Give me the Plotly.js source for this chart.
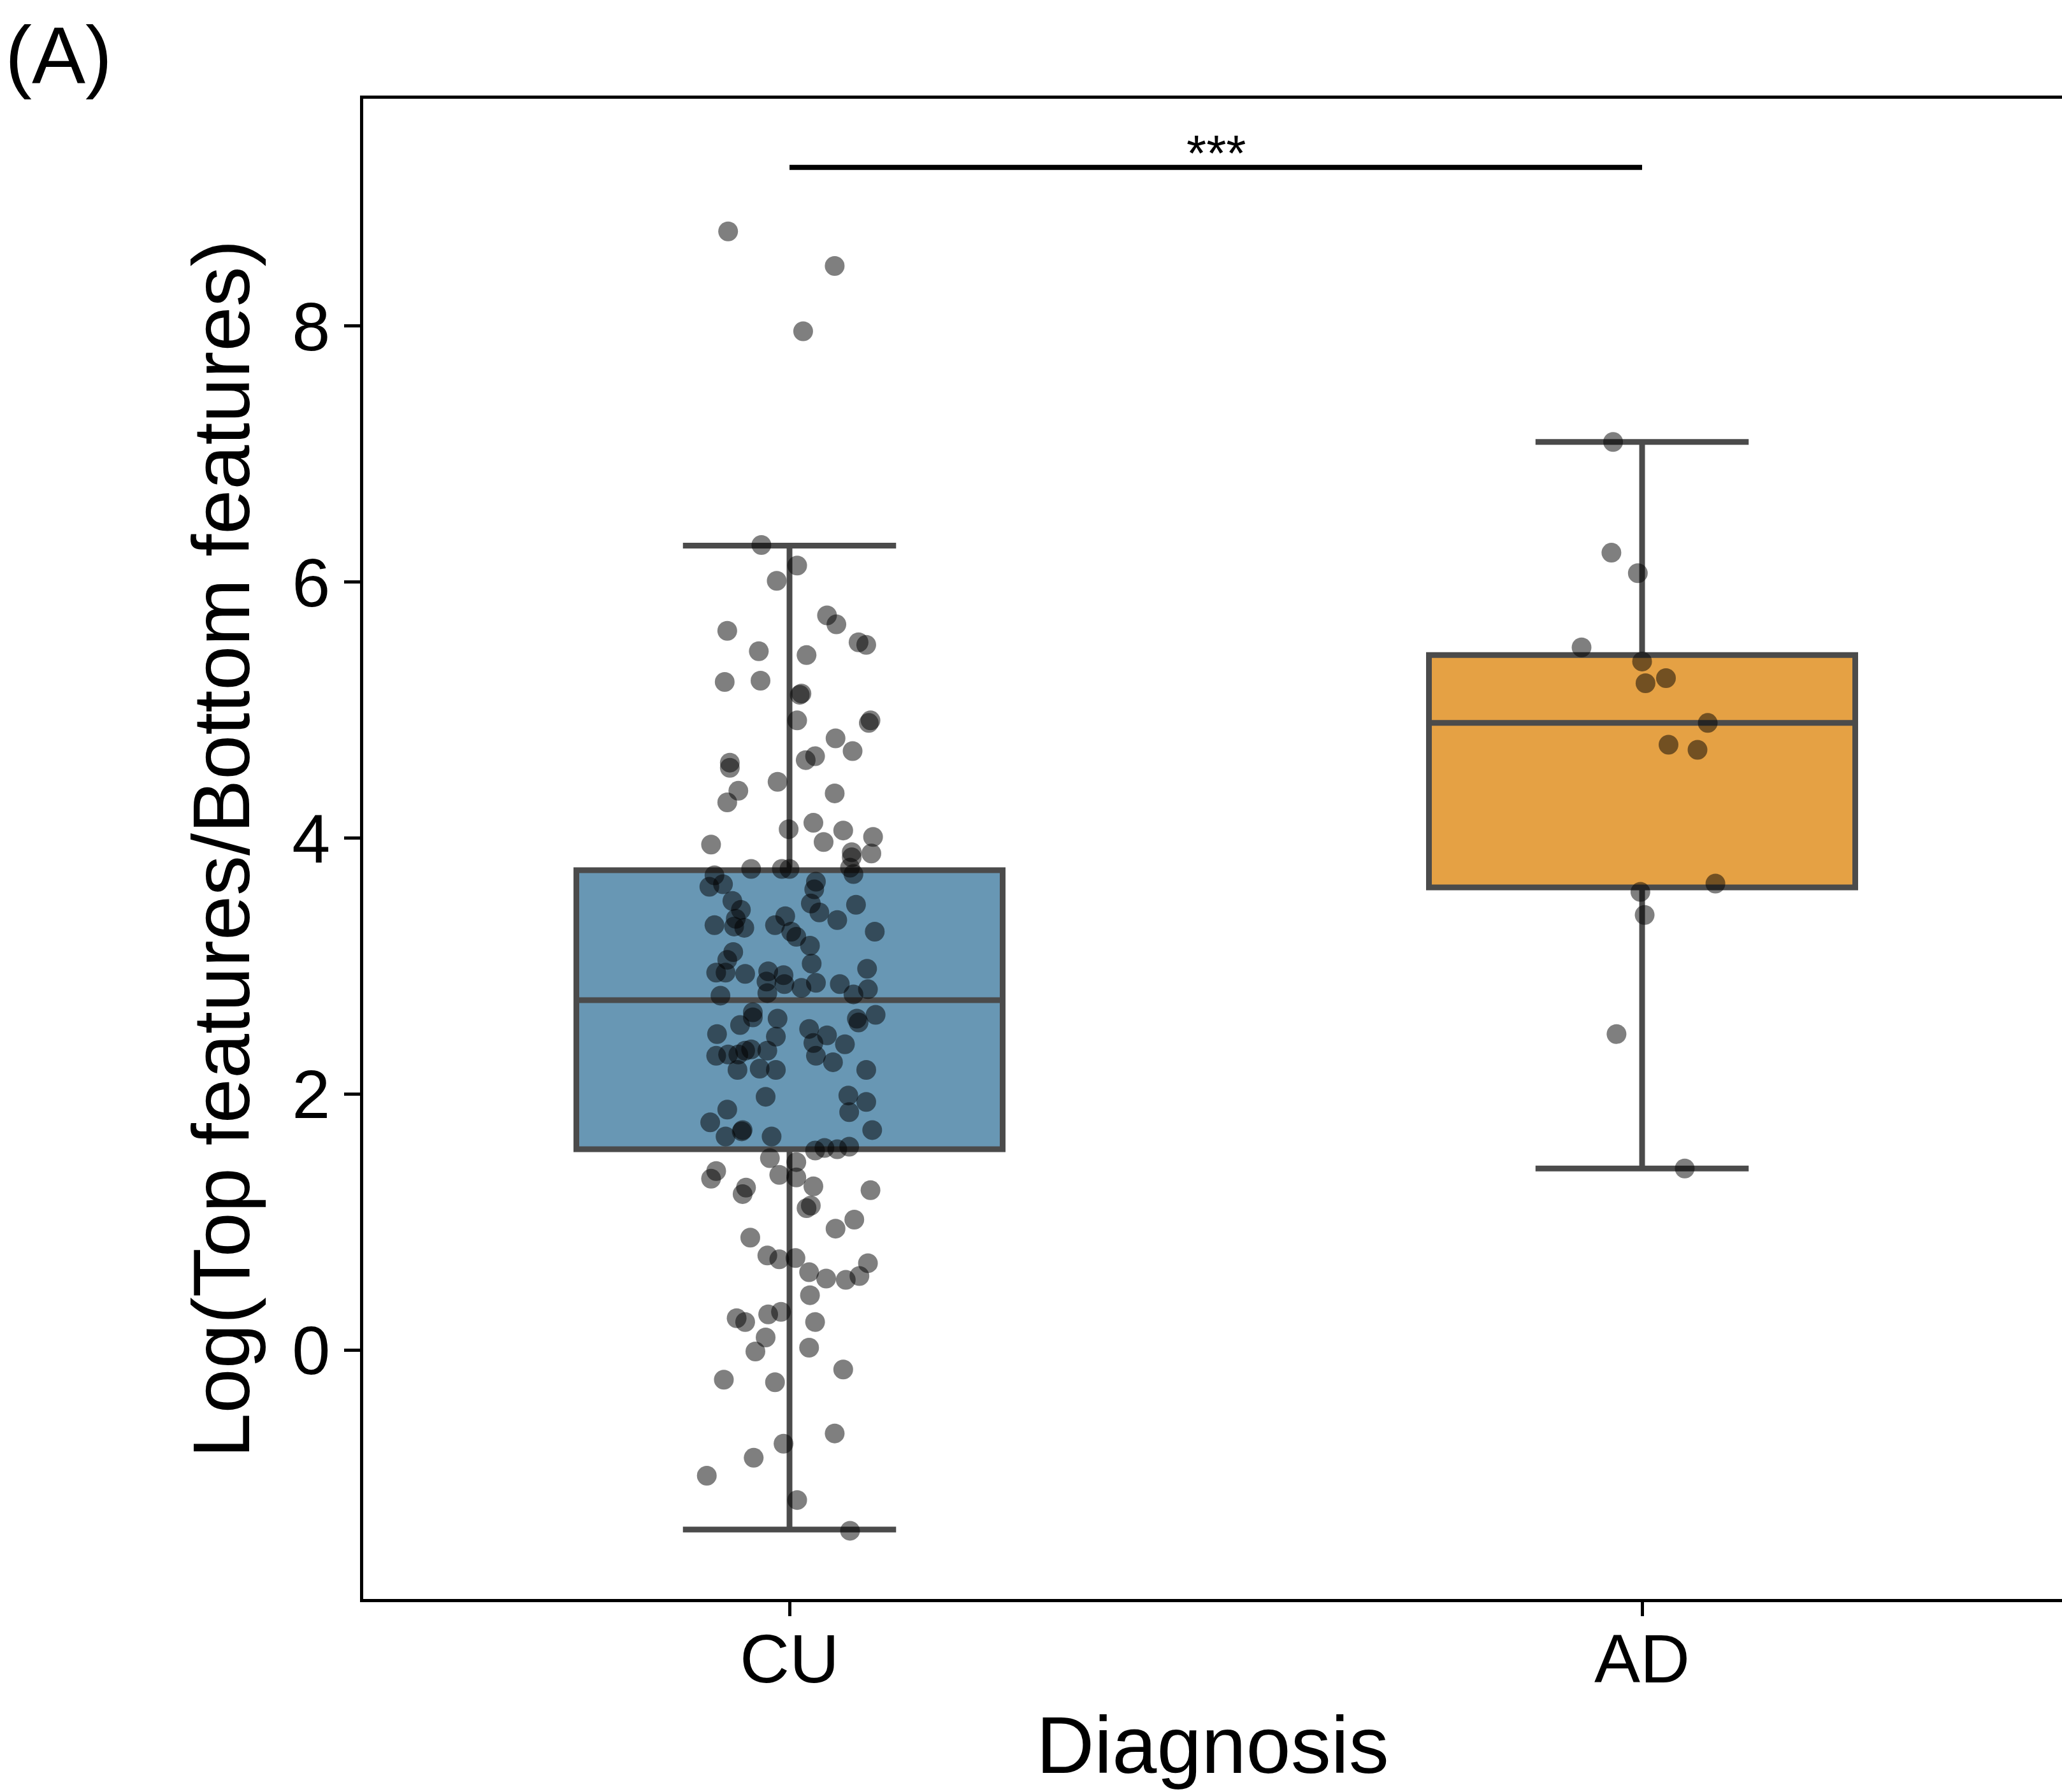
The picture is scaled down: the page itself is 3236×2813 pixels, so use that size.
<!DOCTYPE html>
<html>
<head>
<meta charset="utf-8">
<script src="https://cdn.plot.ly/plotly-3.0.1.min.js"></script>
<style>
  html, body { margin: 0; padding: 0; background: #ffffff; overflow: hidden; }
  #chart { width: 3236px; height: 2813px; }
</style>
</head>
<body>
<div id="chart"></div>
<script>
// ---------- data ----------
const categories = ['CU', 'AD'];
const categoryPositions = [0, 1];

// box statistics (Q1, median, Q3, whisker ends)
const boxQ1 = [1.57, 3.615];
const boxMedian = [2.735, 4.90];
const boxQ3 = [3.75, 5.43];
const boxLowerWhisker = [-1.40, 1.42];
const boxUpperWhisker = [6.285, 7.095];
const boxColors = ['#6897b4', '#e5a144'];

// individual CU observations: horizontal jitter (category units) and value
const cuJitter = [
  -0.072, 0.053, 0.016, -0.033,
  0.009, -0.015, 0.044, 0.055, -0.073, 0.081, 0.090, -0.036, 0.020, -0.076,
  -0.034, 0.014, 0.012, 0.009, 0.095, 0.093, 0.054, 0.074, 0.019, 0.030,
  -0.070, -0.070, -0.014, -0.060, -0.073, 0.053, -0.001, 0.028, 0.063, 0.040,
  0.098, -0.092, 0.073, 0.073, 0.096, -0.045, -0.009, 0.000, 0.071, 0.075,
  -0.088, -0.094, -0.078, -0.067, -0.057, -0.088, -0.065, -0.053, -0.063, -0.005,
  -0.017, 0.031, 0.029, 0.025, 0.035, 0.056, 0.078, 0.100, 0.008, 0.002,
  0.024, 0.026, -0.066, -0.073, -0.086, -0.075, -0.052, -0.025, -0.027, -0.007,
  -0.006, 0.014, 0.031, 0.059, 0.091, 0.092, -0.081, -0.026, 0.075,
  -0.043, -0.058, -0.043, -0.014, -0.016, -0.085, 0.023, 0.044, 0.028, 0.031,
  0.051, 0.065, 0.079, 0.081, 0.101, -0.086, -0.072, -0.060, -0.045, -0.026,
  -0.061, -0.035, -0.016, 0.090, -0.028, 0.069, 0.090, 0.070, -0.073, -0.093,
  -0.075, -0.055, -0.056, -0.021, 0.097, -0.052,
  0.030, 0.041, 0.056, 0.070, -0.023, 0.008, -0.012, 0.008, -0.086, -0.092,
  -0.051, -0.055, 0.028, 0.025, 0.020, 0.095, 0.076, 0.054, -0.046, -0.026,
  -0.012, 0.007, 0.023, 0.043, 0.066, 0.082, 0.092,
  0.024, -0.062, -0.052, -0.025, -0.010, 0.030, -0.028, -0.040, 0.023, 0.063,
  -0.077, -0.017, 0.053, -0.007, -0.042, -0.097, 0.009, 0.071
];
const cuValues = [
  8.74, 8.47, 7.96, 6.29,
  6.13, 6.01, 5.74, 5.67, 5.62, 5.53, 5.51, 5.46, 5.43, 5.22,
  5.23, 5.13, 5.12, 4.92, 4.92, 4.90, 4.78, 4.68, 4.61, 4.64,
  4.59, 4.55, 4.44, 4.37, 4.28, 4.35, 4.07, 4.12, 4.06, 3.97,
  4.01, 3.95, 3.89, 3.85, 3.88, 3.76, 3.76, 3.76, 3.77, 3.72,
  3.71, 3.62, 3.64, 3.51, 3.44, 3.32, 3.31, 3.30, 3.37, 3.39,
  3.32, 3.66, 3.60, 3.49, 3.42, 3.36, 3.48, 3.27, 3.23, 3.27,
  3.16, 3.02, 3.11, 3.05, 2.95, 2.95, 2.94, 2.96, 2.88, 2.93,
  2.86, 2.83, 2.87, 2.86, 2.98, 2.82, 2.77, 2.79, 2.78,
  2.60, 2.54, 2.64, 2.59, 2.45, 2.47, 2.51, 2.46, 2.40, 2.30,
  2.25, 2.39, 2.59, 2.56, 2.62, 2.30, 2.31, 2.31, 2.35, 2.34,
  2.19, 2.20, 2.19, 2.19, 1.98, 1.99, 1.94, 1.86, 1.88, 1.78,
  1.67, 1.72, 1.71, 1.67, 1.72, 2.34,
  1.56, 1.58, 1.57, 1.59, 1.50, 1.47, 1.37, 1.35, 1.40, 1.34,
  1.27, 1.22, 1.28, 1.13, 1.11, 1.25, 1.02, 0.95, 0.88, 0.74,
  0.71, 0.72, 0.61, 0.56, 0.55, 0.58, 0.68,
  0.43, 0.25, 0.22, 0.28, 0.30, 0.22, 0.10, -0.01, 0.02, -0.15,
  -0.23, -0.25, -0.65, -0.73, -0.84, -0.98, -1.17, -1.41
];

// individual AD observations
const adJitter = [-0.034, -0.036, -0.005, -0.071, 0.000, 0.004, 0.028, 0.077,
                  0.031, 0.065, 0.086, -0.002, 0.003, -0.030, 0.050];
const adValues = [7.095, 6.23, 6.07, 5.49, 5.38, 5.21, 5.25, 4.90,
                  4.73, 4.69, 3.645, 3.58, 3.40, 2.47, 1.42];

// significance bracket between the two groups
const sigLevel = 9.24;
const sigLabel = '***';

const yTicks = [0, 2, 4, 6, 8];
const xAxisTitle = 'Diagnosis';
const yAxisTitle = 'Log(Top features/Bottom features)';
const panelLabel = '(A)';

// ---------- build traces ----------
const FONT = 'Liberation Sans, Arial, sans-serif';
const traces = [];

categories.forEach(function (cat, i) {
  traces.push({
    type: 'box',
    name: cat,
    orientation: 'v',
    x: [categoryPositions[i]],
    q1: [boxQ1[i]],
    median: [boxMedian[i]],
    q3: [boxQ3[i]],
    lowerfence: [boxLowerWhisker[i]],
    upperfence: [boxUpperWhisker[i]],
    width: 0.5,
    whiskerwidth: 0.5,
    fillcolor: boxColors[i],
    line: { color: '#4b4b4b', width: 9 },
    boxpoints: false,
    hoverinfo: 'skip',
    showlegend: false
  });
});

const pointStyle = { color: 'rgba(0,0,0,0.5)', size: 31, line: { width: 0 } };

traces.push({
  type: 'scatter',
  mode: 'markers',
  name: 'CU points',
  x: cuJitter.map(function (j) { return categoryPositions[0] + j; }),
  y: cuValues,
  marker: pointStyle,
  hoverinfo: 'y',
  showlegend: false
});

traces.push({
  type: 'scatter',
  mode: 'markers',
  name: 'AD points',
  x: adJitter.map(function (j) { return categoryPositions[1] + j; }),
  y: adValues,
  marker: pointStyle,
  hoverinfo: 'y',
  showlegend: false
});

traces.push({
  type: 'scatter',
  mode: 'lines',
  name: 'significance',
  x: [categoryPositions[0], categoryPositions[1]],
  y: [sigLevel, sigLevel],
  line: { color: '#000000', width: 8 },
  hoverinfo: 'skip',
  showlegend: false
});

// ---------- layout ----------
const layout = {
  width: 3236,
  height: 2813,
  margin: { l: 570, r: 0, t: 155, b: 303, pad: 0 },
  paper_bgcolor: '#ffffff',
  plot_bgcolor: '#ffffff',
  showlegend: false,
  font: { family: FONT, color: '#000000' },
  title: {
    text: panelLabel,
    font: { family: FONT, size: 126, color: '#000000' },
    xref: 'container', x: 0.0025, xanchor: 'left',
    yref: 'container', y: 0.985, yanchor: 'top'
  },
  xaxis: {
    range: [-0.5, 1.4925],
    tickmode: 'array',
    tickvals: categoryPositions,
    ticktext: categories,
    showline: true, linecolor: '#000000', linewidth: 5, mirror: true,
    ticks: 'outside', ticklen: 22, tickwidth: 5, tickcolor: '#000000',
    ticklabelstandoff: -26,
    tickfont: { family: FONT, size: 108, color: '#000000' },
    showgrid: false, zeroline: false,
    title: { text: xAxisTitle, font: { family: FONT, size: 126, color: '#000000' }, standoff: 34 }
  },
  yaxis: {
    range: [-1.943, 9.776],
    tickmode: 'array',
    tickvals: yTicks,
    ticktext: yTicks.map(String),
    showline: true, linecolor: '#000000', linewidth: 5, mirror: false,
    ticks: 'outside', ticklen: 25, tickwidth: 5, tickcolor: '#000000',
    tickfont: { family: FONT, size: 108, color: '#000000' },
    showgrid: false, zeroline: false,
    title: { text: yAxisTitle, font: { family: FONT, size: 126, color: '#000000' }, standoff: 26 }
  },
  annotations: [{
    text: sigLabel,
    x: (categoryPositions[0] + categoryPositions[1]) / 2,
    y: sigLevel,
    xref: 'x', yref: 'y',
    xanchor: 'center', yanchor: 'bottom',
    yshift: -24,
    showarrow: false,
    font: { family: FONT, size: 80, color: '#000000' }
  }]
};

Plotly.newPlot('chart', traces, layout, { staticPlot: true, displayModeBar: false });
</script>
</body>
</html>
